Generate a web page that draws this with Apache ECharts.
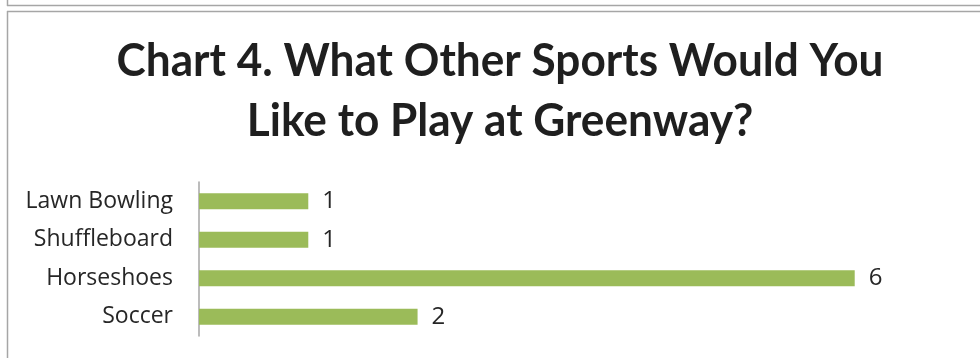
<!DOCTYPE html>
<html>
<head>
<meta charset="utf-8">
<script src="https://cdn.jsdelivr.net/npm/echarts@6/dist/echarts.min.js"></script>
<style>
  html, body { margin: 0; padding: 0; background: #ffffff; }
  #chart { width: 980px; height: 358px; }
</style>
</head>
<body>
<div id="chart"></div>
<script>
// Survey responses: other sports people would like to play at Greenway
const categories = ['Lawn Bowling', 'Shuffleboard', 'Horseshoes', 'Soccer'];
const responses = [1, 1, 6, 2];
const titleLines = ['Chart 4. What Other Sports Would You', 'Like to Play at Greenway?'];

const chart = echarts.init(document.getElementById('chart'), null, { renderer: 'canvas' });

const frameColor = '#a6a6a6';
const textColor = '#262626';
const titleFont = 'bold 46px Lato, "Open Sans", sans-serif';
const labelFamily = '"Open Sans", Lato, sans-serif';

// one centred, slightly condensed text element per title line
const titleGraphics = titleLines.map((line, i) => ({
  type: 'text', x: 500, y: 61 + i * 60, scaleX: 0.96,
  style: {
    text: line, font: titleFont, fill: '#1f1f1f',
    textAlign: 'center', textVerticalAlign: 'middle'
  }
}));

chart.setOption({
  backgroundColor: '#ffffff',
  animation: false,
  graphic: [
    // outer frame lines
    { type: 'line', shape: { x1: 7.5, y1: 0, x2: 7.5, y2: 6 }, style: { stroke: frameColor, lineWidth: 1.5 } },
    { type: 'line', shape: { x1: 7, y1: 5.5, x2: 980, y2: 5.5 }, style: { stroke: frameColor, lineWidth: 1.5 } },
    { type: 'line', shape: { x1: 7, y1: 11.5, x2: 980, y2: 11.5 }, style: { stroke: frameColor, lineWidth: 1.5 } },
    { type: 'line', shape: { x1: 7.5, y1: 11, x2: 7.5, y2: 358 }, style: { stroke: frameColor, lineWidth: 1.5 } }
  ].concat(titleGraphics),
  grid: { left: 199, top: 182, width: 765, height: 154, containLabel: false },
  xAxis: {
    type: 'value', min: 0, max: 7, show: false
  },
  yAxis: {
    type: 'category',
    data: categories,
    inverse: true,
    axisLine: { show: true, lineStyle: { color: '#a6a6a6', width: 1.5 } },
    axisTick: { show: false },
    axisLabel: {
      color: textColor, fontSize: 23, fontFamily: labelFamily, margin: 26
    }
  },
  series: [{
    type: 'bar',
    data: responses,
    barWidth: 16,
    itemStyle: { color: '#9bbb59' },
    label: {
      show: true, position: 'right', distance: 14,
      color: textColor, fontSize: 24, fontFamily: labelFamily
    }
  }]
});
</script>
</body>
</html>
